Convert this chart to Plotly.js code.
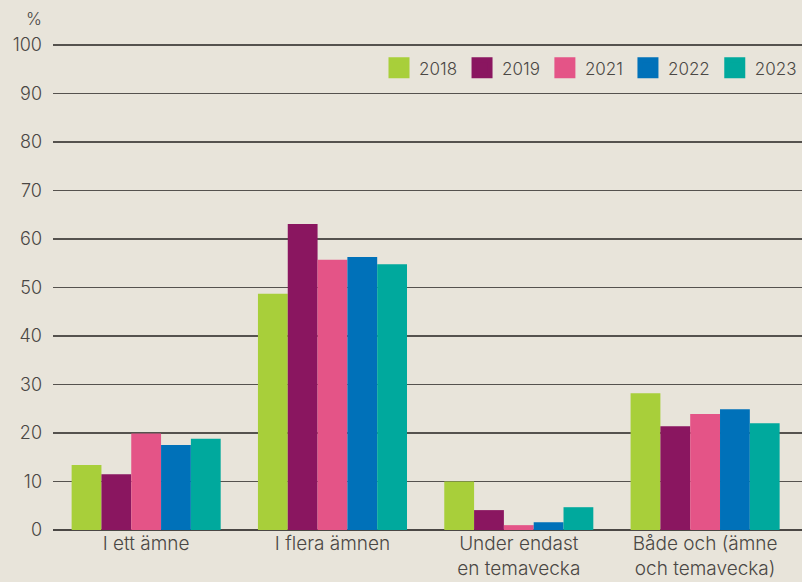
<!DOCTYPE html>
<html><head><meta charset="utf-8">
<script src="https://cdn.plot.ly/plotly-3.0.1.min.js"></script>
<style>html,body{margin:0;padding:0;background:#e8e4da}</style>
</head><body>
<div id="chart" style="width:802px;height:582px"></div>
<script>
const categories = ["I ett ämne", "I flera ämnen", "Under endast<br>en temavecka", "Både och (ämne<br>och temavecka)"];
const years = ["2018", "2019", "2021", "2022", "2023"];
const colors = ["#a8cf3a", "#8a1660", "#e45487", "#0071b9", "#00a99d"];
const v2018 = [13.4, 48.7, 10.0, 28.2];
const v2019 = [11.5, 63.1, 4.1, 21.4];
const v2021 = [19.9, 55.7, 1.0, 23.9];
const v2022 = [17.5, 56.3, 1.6, 24.9];
const v2023 = [18.8, 54.8, 4.7, 22.0];
const series = [v2018, v2019, v2021, v2022, v2023];
const yTicks = [0,10,20,30,40,50,60,70,80,90,100];

const traces = [];
series.forEach((vals, i) => {
  traces.push({type:'bar', x:categories, y:vals, name:years[i], marker:{color:colors[i]}, showlegend:false, hoverinfo:'y'});
});
series.forEach((vals, i) => {
  traces.push({type:'scatter', mode:'markers', x:[null], y:[null], name:years[i],
    marker:{symbol:'square', size:16, color:colors[i], line:{color:colors[i], width:6}}, showlegend:true});
});

const txt = '#4a4744';
const layout = {
  width:802, height:582,
  paper_bgcolor:'#e8e4da', plot_bgcolor:'#e8e4da',
  font:{family:'Inter, Lato, sans-serif', size:17, color:txt, weight:300},
  margin:{l:53, r:0, t:43, b:52},
  barmode:'group', bargap:0.2, bargroupgap:0,
  xaxis:{type:'category', range:[-0.5, 3.52], showgrid:false, ticks:'',
    tickfont:{size:19, color:txt, weight:300}, automargin:false},
  yaxis:{range:[0,100.4], tickvals:yTicks, showgrid:true, gridcolor:'#55524e', gridwidth:1.3,
    zeroline:true, zerolinecolor:'#4a4744', zerolinewidth:2, ticks:'', ticklabelstandoff:10,
    tickfont:{size:18, color:txt, weight:300}, fixedrange:true, automargin:false},
  legend:{orientation:'h', x:1, xanchor:'right', y:0.948, yanchor:'middle', bgcolor:'rgba(0,0,0,0)',
    font:{size:17, color:txt, weight:300}, itemwidth:30, tracegroupgap:0},
  annotations:[{text:'%', xref:'paper', yref:'paper', x:-0.026, y:1.05, xanchor:'center', yanchor:'middle',
    showarrow:false, font:{size:17, color:txt, weight:300}}]
};
Plotly.newPlot('chart', traces, layout, {displayModeBar:false, staticPlot:true});
</script>
</body></html>
